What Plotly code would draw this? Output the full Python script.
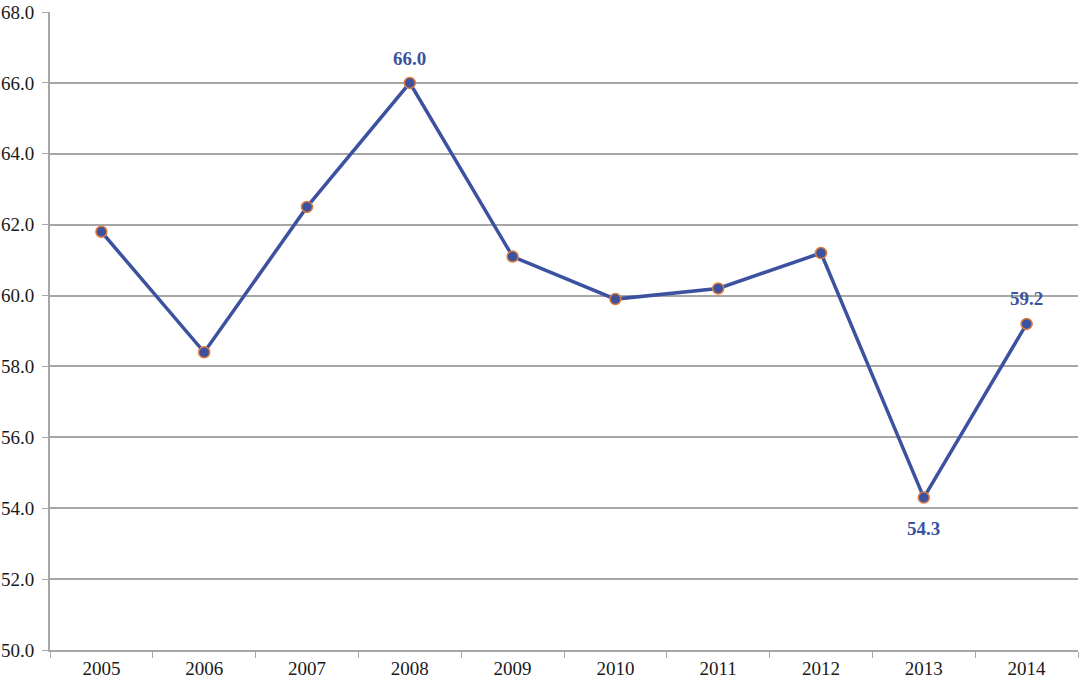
import plotly.graph_objects as go

years = ["2005", "2006", "2007", "2008", "2009", "2010", "2011", "2012", "2013", "2014"]
values = [61.8, 58.4, 62.5, 66.0, 61.1, 59.9, 60.2, 61.2, 54.3, 59.2]
labelled = {"2008": 24, "2013": -31, "2014": 25}

fig = go.Figure()
fig.add_trace(go.Scatter(
    x=years, y=values, mode="lines+markers",
    line=dict(color="#3C52A0", width=3.5),
    marker=dict(size=11, color="#3C52A0", line=dict(color="#E07B39", width=1.5)),
    showlegend=False,
))

for i, (yr, v) in enumerate(zip(years, values)):
    if yr in labelled:
        fig.add_annotation(
            x=i, y=v, text=f"{v:.1f}", showarrow=False, yshift=labelled[yr],
            font=dict(family="Liberation Serif", size=19, color="#3C52A0", weight="bold"),
        )

fig.update_layout(
    width=1082, height=683,
    margin=dict(l=50, r=4, t=12, b=33),
    paper_bgcolor="white", plot_bgcolor="white",
    font=dict(family="Liberation Serif", size=19, color="#1a1a1a"),
)
fig.update_xaxes(
    type="category", tickson="boundaries", ticks="outside", ticklen=6,
    tickcolor="#A6A6A6", showline=True, linecolor="#A6A6A6", linewidth=2,
    showgrid=False, tickfont=dict(size=19), tickangle=0,
    range=[-0.5, len(years) - 0.5], automargin=False,
)
fig.update_yaxes(
    range=[50, 68], dtick=2, tickformat=".1f", ticks="outside", ticklen=6,
    tickcolor="#A6A6A6", showline=True, linecolor="#A6A6A6", linewidth=2,
    showgrid=True, gridcolor="#A6A6A6", gridwidth=1.5, zeroline=False,
    tickfont=dict(size=19), ticklabelstandoff=4, automargin=False,
)

fig.write_html("out.html")
